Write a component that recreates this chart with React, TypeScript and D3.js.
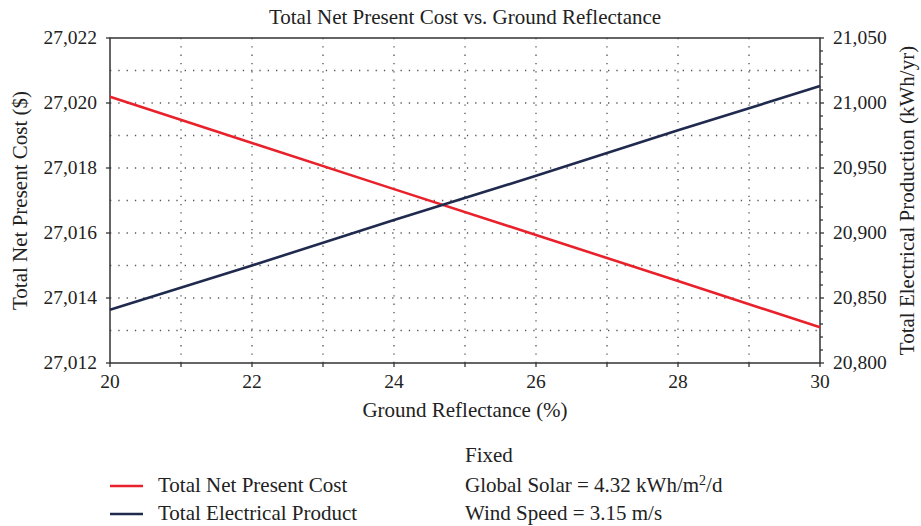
import React from "react";
import * as d3 from "d3";

const reflectance = [20, 22, 24, 26, 28, 30];
const netPresentCost = [27020.19, 27018.77, 27017.35, 27015.94, 27014.52, 27013.1];
const electricalProduction = [20841, 20875, 20910, 20944, 20979, 21013];
const xTicks = [20, 22, 24, 26, 28, 30];
const leftTicks = [27012, 27014, 27016, 27018, 27020, 27022];
const rightTicks = [20800, 20850, 20900, 20950, 21000, 21050];
const legendLabels = ["Total Net Present Cost", "Total Electrical Product"];
const fixedLines = ["Fixed", "Global Solar = 4.32 kWh/m", "Wind Speed = 3.15 m/s"];

const W = 921, H = 526;
const M = { left: 110, right: 820, top: 38, bottom: 363 };
const FONT = "'Liberation Serif', 'DejaVu Serif', serif";
const RED = "#e8212b";
const BLUE = "#1f2a4e";
const AXIS = "#333";
const TXT = 21;
const TICK = 19.5;

export default function App() {
  const x = d3.scaleLinear().domain([20, 30]).range([M.left, M.right]);
  const yL = d3.scaleLinear().domain([27012, 27022]).range([M.bottom, M.top]);
  const yR = d3.scaleLinear().domain([20800, 21050]).range([M.bottom, M.top]);
  const fmt = d3.format(",");

  const redLine = d3.line<number>().x((_, i) => x(reflectance[i])).y((d) => yL(d))(netPresentCost) || "";
  const blueLine = d3.line<number>().x((_, i) => x(reflectance[i])).y((d) => yR(d))(electricalProduction) || "";

  const vGrid = d3.range(21, 30, 1);
  const hGrid = d3.range(27013, 27022, 1);
  const rightMinor = d3.range(20800, 21051, 10);

  return (
    <svg width={W} height={H} style={{ position: "absolute", left: 0, top: 0, background: "#fff" }} fontFamily={FONT}>
      <rect x={0} y={0} width={W} height={H} fill="#fff" />
      <text x={(M.left + M.right) / 2} y={24} textAnchor="middle" fontSize={TXT} fill="#222">
        Total Net Present Cost vs. Ground Reflectance
      </text>
      {vGrid.map((v) => (
        <line key={"v" + v} x1={x(v)} x2={x(v)} y1={M.top} y2={M.bottom} stroke="#555" strokeWidth={1.3} strokeDasharray="1.3,7" />
      ))}
      {hGrid.map((v) => (
        <line key={"h" + v} x1={M.left} x2={M.right} y1={yL(v)} y2={yL(v)} stroke="#555" strokeWidth={1.3} strokeDasharray="1.3,7" />
      ))}
      <rect x={M.left} y={M.top} width={M.right - M.left} height={M.bottom - M.top} fill="none" stroke={AXIS} strokeWidth={1.5} />
      {d3.range(20, 31, 1).map((v) => (
        <line key={"xt" + v} x1={x(v)} x2={x(v)} y1={M.bottom} y2={M.bottom + 4} stroke={AXIS} strokeWidth={1.3} />
      ))}
      {xTicks.map((v) => (
        <text key={"xl" + v} x={x(v)} y={M.bottom + 25} textAnchor="middle" fontSize={TICK} fill="#222">
          {v}
        </text>
      ))}
      {leftTicks.map((v) => (
        <g key={"lt" + v}>
          <line x1={M.left - 4} x2={M.left} y1={yL(v)} y2={yL(v)} stroke={AXIS} strokeWidth={1.3} />
          <text x={M.left - 13} y={yL(v) + 6} textAnchor="end" fontSize={TICK} fill="#222">
            {fmt(v)}
          </text>
        </g>
      ))}
      {rightMinor.map((v) => (
        <line key={"rm" + v} x1={M.right} x2={M.right + (v % 50 === 0 ? 4 : 3)} y1={yR(v)} y2={yR(v)} stroke={AXIS} strokeWidth={1.3} />
      ))}
      {rightTicks.map((v) => (
        <text key={"rl" + v} x={M.right + 13} y={yR(v) + 6} textAnchor="start" fontSize={TICK} fill="#222">
          {fmt(v)}
        </text>
      ))}
      <text x={(M.left + M.right) / 2} y={417} textAnchor="middle" fontSize={TXT} fill="#222">
        Ground Reflectance (%)
      </text>
      <text transform={`translate(27,${(M.top + M.bottom) / 2}) rotate(-90)`} textAnchor="middle" fontSize={TXT} fill="#222">
        Total Net Present Cost ($)
      </text>
      <text transform={`translate(914,${(M.top + M.bottom) / 2}) rotate(-90)`} textAnchor="middle" fontSize={TXT} fill="#222">
        Total Electrical Production (kWh/yr)
      </text>
      <path d={redLine} fill="none" stroke={RED} strokeWidth={2.6} />
      <path d={blueLine} fill="none" stroke={BLUE} strokeWidth={2.6} />
      {legendLabels.map((l, i) => (
        <g key={l}>
          <line x1={110} x2={143} y1={486 + i * 28} y2={486 + i * 28} stroke={i === 0 ? RED : BLUE} strokeWidth={2.6} />
          <text x={158} y={492 + i * 28} fontSize={TXT} fill="#222">
            {l}
          </text>
        </g>
      ))}
      <text x={465} y={462} fontSize={TXT} fill="#222">{fixedLines[0]}</text>
      <text x={465} y={492} fontSize={TXT} fill="#222">
        {fixedLines[1]}
        <tspan dy={-7} fontSize={14}>2</tspan>
        <tspan dy={7}>/d</tspan>
      </text>
      <text x={465} y={520} fontSize={TXT} fill="#222">{fixedLines[2]}</text>
    </svg>
  );
}
